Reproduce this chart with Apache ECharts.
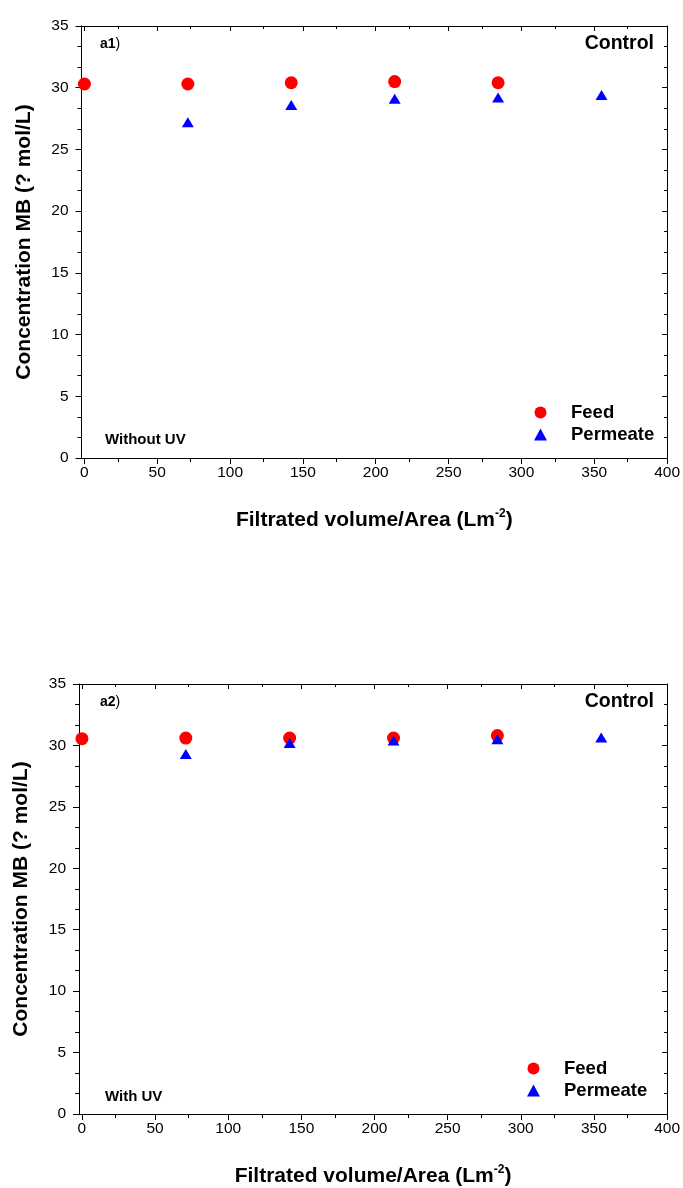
<!DOCTYPE html>
<html>
<head>
<meta charset="utf-8">
<script src="https://cdn.jsdelivr.net/npm/echarts@6/dist/echarts.min.js"></script>
<style>html,body{margin:0;padding:0;background:#fff;}#c{width:683px;height:1188px;}</style>
</head>
<body>
<div id="c"></div>
<script>
// Data
const volume = [0, 71, 142, 213, 284, 355];
const feedA1 = [30.3, 30.3, 30.4, 30.5, 30.4];          // x = volume[0..4]
const permeateA1 = [27.2, 28.6, 29.1, 29.2, 29.4];      // x = volume[1..5]
const feedA2 = [30.55, 30.6, 30.6, 30.6, 30.8];
const permeateA2 = [29.3, 30.2, 30.4, 30.5, 30.65];
const xTicks = [0, 50, 100, 150, 200, 250, 300, 350, 400];
const yTicks = [0, 5, 10, 15, 20, 25, 30, 35];

const FONT = 'Liberation Sans, Arial, sans-serif';
const black = '#000';

function pairs(xs, ys) { return ys.map((v, i) => [xs[i], v]); }

const grids = [
  { left: 81.5, top: 26, width: 586.5, height: 432 },
  { left: 79, top: 684, width: 589, height: 430 }
];

const xAxes = [], yAxes = [];
grids.forEach((g, gi) => {
  xAxes.push({
    type: 'value', gridIndex: gi, min: -2, max: 400, interval: 50,
    axisLine: { show: true, onZero: false, lineStyle: { color: black, width: 1 } },
    axisTick: { show: true, length: 6, lineStyle: { color: black }, customValues: xTicks },
    minorTick: { show: true, splitNumber: 2, length: 4, lineStyle: { color: black } },
    axisLabel: { color: black, fontSize: 15.5, fontFamily: FONT, margin: 7, customValues: xTicks },
    splitLine: { show: false },
    name: '{a|Filtrated volume/Area (Lm}{s|-2}{a|)}',
    nameLocation: 'middle', nameGap: 50,
    nameTextStyle: { rich: {
      a: { fontSize: 21, fontWeight: 'bold', fontFamily: FONT, color: black, lineHeight: 24 },
      s: { fontSize: 12, fontWeight: 'bold', fontFamily: FONT, color: black, verticalAlign: 'top', lineHeight: 13 }
    } }
  });
  xAxes.push({
    type: 'value', gridIndex: gi, min: -2, max: 400, interval: 50, position: 'top',
    axisLine: { show: true, onZero: false, lineStyle: { color: black, width: 1 } },
    axisTick: { show: true, inside: true, length: 5, lineStyle: { color: black }, customValues: xTicks },
    minorTick: { show: true, splitNumber: 2, length: 3, lineStyle: { color: black } },
    axisLabel: { show: false }, splitLine: { show: false }
  });
  yAxes.push({
    type: 'value', gridIndex: gi, min: 0, max: 35, interval: 5,
    axisLine: { show: true, onZero: false, lineStyle: { color: black, width: 1 } },
    axisTick: { show: true, length: 6, lineStyle: { color: black } },
    minorTick: { show: true, splitNumber: 3, length: 4, lineStyle: { color: black } },
    axisLabel: { color: black, fontSize: 15.5, fontFamily: FONT, margin: 13 },
    splitLine: { show: false },
    name: 'Concentration MB (? mol/L)', nameLocation: 'middle', nameGap: 47,
    nameTextStyle: { fontSize: 21, fontWeight: 'bold', fontFamily: FONT, color: black }
  });
  yAxes.push({
    type: 'value', gridIndex: gi, min: 0, max: 35, interval: 5, position: 'right',
    axisLine: { show: true, onZero: false, lineStyle: { color: black, width: 1 } },
    axisTick: { show: true, inside: true, length: 5, lineStyle: { color: black } },
    minorTick: { show: true, splitNumber: 3, length: 3, lineStyle: { color: black } },
    axisLabel: { show: false }, splitLine: { show: false }
  });
});

function scatter(name, gi, data, symbol, color, size) {
  return {
    type: 'scatter', name: name, xAxisIndex: gi * 2, yAxisIndex: gi * 2,
    data: data, symbol: symbol, symbolSize: size,
    itemStyle: { color: color, opacity: 1 }, emphasis: { disabled: true }, z: symbol === 'circle' ? 2 : 3
  };
}

const series = [
  scatter('Feed', 0, pairs(volume.slice(0, 5), feedA1), 'circle', '#ff0000', 13),
  scatter('Permeate', 0, pairs(volume.slice(1), permeateA1), 'triangle', '#0000ff', [12, 10]),
  scatter('Feed', 1, pairs(volume.slice(0, 5), feedA2), 'circle', '#ff0000', 13),
  scatter('Permeate', 1, pairs(volume.slice(1), permeateA2), 'triangle', '#0000ff', [12, 10])
];

function legend(top, left) {
  return {
    orient: 'vertical', left: left, top: top, itemWidth: 13, itemHeight: 12, itemGap: 3,
    data: ['Feed', 'Permeate'], selectedMode: false,
    textStyle: { fontSize: 18.5, fontWeight: 'bold', fontFamily: FONT, color: black, padding: [0, 0, 0, 19] }
  };
}

const graphics = [];
[[44, 440, 'Without UV'], [702, 1097, 'With UV']].forEach((d, i) => {
  const lbl = i === 0 ? 'a1' : 'a2';
  graphics.push({ type: 'text', x: 100, y: d[0], style: {
    text: '{b|' + lbl + '}{n|)}', verticalAlign: 'middle', rich: {
      b: { fontSize: 14, fontWeight: 'bold', fontFamily: FONT, fill: black },
      n: { fontSize: 14, fontFamily: FONT, fill: black } } } });
  graphics.push({ type: 'text', x: 654, y: d[0], style: {
    text: 'Control', fontSize: 19.5, fontWeight: 'bold', fontFamily: FONT, fill: black,
    align: 'right', verticalAlign: 'middle' } });
  graphics.push({ type: 'text', x: 105, y: d[1], style: {
    text: d[2], fontSize: 15, fontWeight: 'bold', fontFamily: FONT, fill: black,
    verticalAlign: 'middle' } });
});

const chart = echarts.init(document.getElementById('c'), null, { renderer: 'canvas' });
chart.setOption({
  animation: false,
  backgroundColor: '#fff',
  grid: grids,
  xAxis: xAxes,
  yAxis: yAxes,
  legend: [legend(398, 529), legend(1054, 522)],
  series: series,
  graphic: graphics
});
</script>
</body>
</html>
